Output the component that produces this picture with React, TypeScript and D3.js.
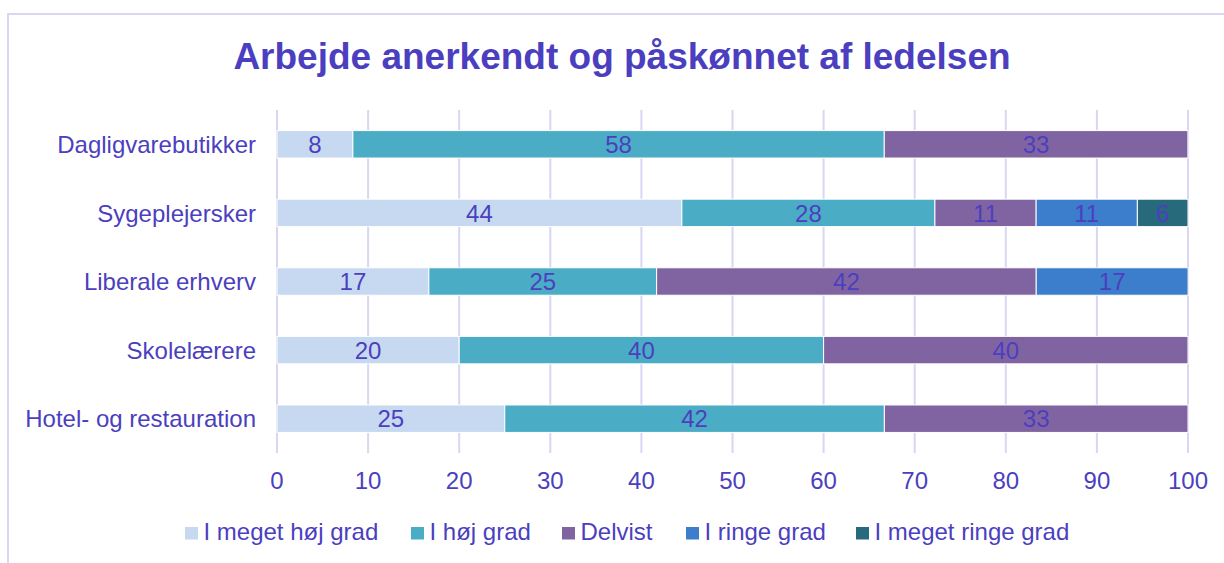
import React from "react";
import * as d3 from "d3";

const title = "Arbejde anerkendt og påskønnet af ledelsen";
const categories = ["Dagligvarebutikker", "Sygeplejersker", "Liberale erhverv", "Skolelærere", "Hotel- og restauration"];
const seriesNames = ["I meget høj grad", "I høj grad", "Delvist", "I ringe grad", "I meget ringe grad"];
const meget_hoej = [8.33, 44.44, 16.67, 20, 25];
const hoej = [58.33, 27.78, 25, 40, 41.67];
const delvist = [33.33, 11.11, 41.67, 40, 33.33];
const ringe = [0, 11.11, 16.67, 0, 0];
const meget_ringe = [0, 5.56, 0, 0, 0];
const xTicks = [0, 10, 20, 30, 40, 50, 60, 70, 80, 90, 100];
const colors = ["#c6d9f0", "#4bacc6", "#8064a2", "#3c7dcc", "#276a7b"];

const TEXT = "#4b3fbf";
const GRID = "#d9d5f2";
const FONT = "'Liberation Sans', Arial, sans-serif";

export default function App() {
  const W = 1224, H = 563;
  const x0 = 277, x1 = 1188, yTop = 110, yBot = 453;
  const x = d3.scaleLinear().domain([0, 100]).range([x0, x1]);
  const y = d3.scaleBand<string>().domain(categories).range([yTop, yBot]).paddingInner(0.6).paddingOuter(0.3);
  const seriesVals = [meget_hoej, hoej, delvist, ringe, meget_ringe];
  const rows = categories.map((c, i) => {
    const o: any = { cat: c };
    seriesNames.forEach((s, k) => (o[s] = seriesVals[k][i]));
    return o;
  });
  const stacked = d3.stack<any>().keys(seriesNames)(rows);

  const legendX = [185, 411, 562, 686, 856];

  return (
    <svg width={W} height={H} style={{ position: "absolute", left: 0, top: 0 }} fontFamily={FONT}>
      <rect x={0} y={0} width={W} height={H} fill="#fff" />
      <rect x={8} y={14} width={W + 20} height={H + 20} fill="none" stroke={GRID} strokeWidth={2} />
      <text x={622} y={69} textAnchor="middle" fontSize={37} fontWeight="bold" fill={TEXT}>{title}</text>
      {xTicks.map((t) => (
        <line key={t} x1={x(t)} x2={x(t)} y1={yTop} y2={yBot} stroke={GRID} strokeWidth={2} />
      ))}
      {stacked.map((s, k) => (
        <g key={k}>
          {s.map((d, i) => {
            const v = d[1] - d[0];
            if (v <= 0) return null;
            const yy = y(categories[i])!;
            return (
              <g key={i}>
                <rect x={x(d[0])} y={yy} width={x(d[1]) - x(d[0])} height={y.bandwidth()} fill={colors[k]} stroke="#fff" strokeWidth={1} />
                <text x={(x(d[0]) + x(d[1])) / 2} y={yy + y.bandwidth() / 2} dy="0.36em" textAnchor="middle" fontSize={24} fill={TEXT}>
                  {Math.round(v)}
                </text>
              </g>
            );
          })}
        </g>
      ))}
      {categories.map((c) => (
        <text key={c} x={256} y={y(c)! + y.bandwidth() / 2} dy="0.36em" textAnchor="end" fontSize={24} fill={TEXT}>{c}</text>
      ))}
      {xTicks.map((t) => (
        <text key={t} x={x(t)} y={480} dy="0.36em" textAnchor="middle" fontSize={24} fill={TEXT}>{t}</text>
      ))}
      {seriesNames.map((s, k) => (
        <g key={s}>
          <rect x={legendX[k]} y={527} width={13} height={12.5} fill={colors[k]} />
          <text x={legendX[k] + 18.5} y={531} dy="0.36em" fontSize={24} fill={TEXT}>{s}</text>
        </g>
      ))}
    </svg>
  );
}
